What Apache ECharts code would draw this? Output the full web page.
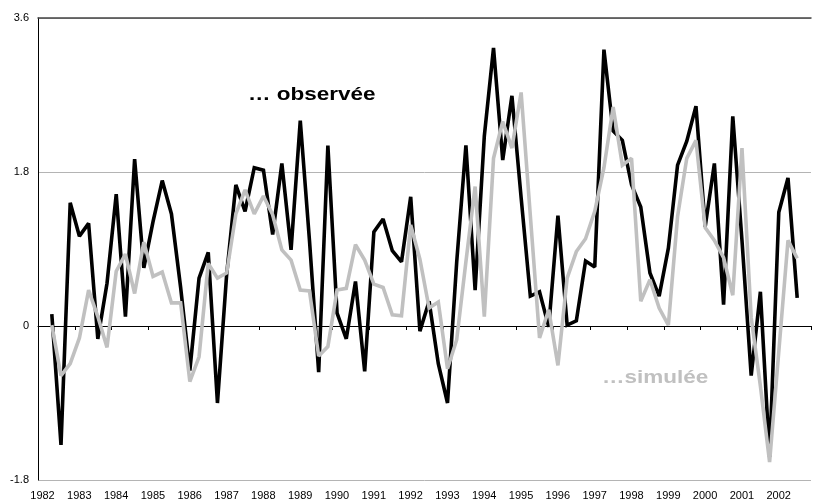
<!DOCTYPE html>
<html>
<head>
<meta charset="utf-8">
<script src="https://cdn.jsdelivr.net/npm/echarts@6/dist/echarts.min.js"></script>
<style>
  html, body { margin: 0; padding: 0; background: #fff; }
  #chart { width: 814px; height: 504px; }
</style>
</head>
<body>
<div id="chart"></div>
<script>
// Quarterly series, 1982 T2 to 2002 T3
const firstYear = 1982;
const firstQuarter = 2;

const observee = [
  0.14, -1.39, 1.44,
  1.05, 1.20, -0.15, 0.50,
  1.54, 0.11, 1.95, 0.68,
  1.22, 1.70, 1.31, 0.45,
  -0.52, 0.56, 0.86, -0.90,
  0.60, 1.65, 1.34, 1.85,
  1.82, 1.07, 1.90, 0.89,
  2.40, 1.00, -0.54, 2.11,
  0.15, -0.15, 0.52, -0.53,
  1.10, 1.25, 0.88, 0.75,
  1.51, -0.06, 0.29, -0.44,
  -0.90, 0.75, 2.11, 0.42,
  2.22, 3.25, 1.94, 2.69,
  1.50, 0.35, 0.40, -0.01,
  1.29, 0.01, 0.06, 0.76,
  0.69, 3.23, 2.28, 2.17,
  1.65, 1.39, 0.62, 0.35,
  0.91, 1.88, 2.16, 2.57,
  1.16, 1.90, 0.25, 2.45,
  1.00, -0.58, 0.40, -1.53,
  1.33, 1.73, 0.33
];

const simulee = [
  0.01, -0.58, -0.44,
  -0.14, 0.42, 0.11, -0.25,
  0.64, 0.84, 0.38, 0.98,
  0.58, 0.63, 0.27, 0.27,
  -0.65, -0.36, 0.73, 0.56,
  0.62, 1.31, 1.59, 1.31,
  1.52, 1.30, 0.89, 0.77,
  0.42, 0.41, -0.35, -0.24,
  0.42, 0.44, 0.95, 0.77,
  0.49, 0.45, 0.13, 0.12,
  1.18, 0.78, 0.21, 0.28,
  -0.50, -0.16, 0.75, 1.63,
  0.11, 1.96, 2.39, 2.08,
  2.73, 1.29, -0.14, 0.19,
  -0.46, 0.56, 0.87, 1.02,
  1.34, 1.85, 2.56, 1.88,
  1.96, 0.29, 0.54, 0.21,
  0.01, 1.28, 1.96, 2.17,
  1.15, 1.00, 0.80, 0.36,
  2.08, 0.10, -0.70, -1.59,
  -0.30, 1.00, 0.79
];

const yTicks = [-1.8, 0, 1.8, 3.6];
const yearLabels = ['1982','1983','1984','1985','1986','1987','1988','1989','1990','1991','1992',
                    '1993','1994','1995','1996','1997','1998','1999','2000','2001','2002'];

// each quarter sits at the middle of its slot on the year axis
function toPoints(values) {
  return values.map((v, i) => {
    const q = firstQuarter - 1 + i;
    const year = firstYear + Math.floor(q / 4);
    const x = year + ((q % 4) + 0.5) / 4;
    return [x, v];
  });
}

const chart = echarts.init(document.getElementById('chart'), null, { renderer: 'canvas' });
const baseFont = 'Liberation Sans, Arial, sans-serif';

chart.setOption({
  animation: false,
  backgroundColor: '#ffffff',
  grid: { left: 38, right: -12, top: 18, bottom: 24 },
  xAxis: [{
    type: 'value',
    min: 1982,
    max: 2003,
    interval: 1,
    axisLine: { show: true, lineStyle: { color: '#000', width: 1 } },
    axisTick: { show: true, inside: false, length: 4, lineStyle: { color: '#000' } },
    splitLine: { show: false },
    axisLabel: {
      show: true,
      margin: 10,
      color: '#000',
      fontFamily: baseFont,
      fontSize: 11,
      padding: [0, 0, 0, 9],
      formatter: v => {
        const idx = Math.round(v) - 1982;
        return (Math.abs(v - Math.round(v)) < 1e-6 && yearLabels[idx]) ? yearLabels[idx] : '';
      }
    }
  }, {
    type: 'value',
    position: 'top',
    min: 1982,
    max: 2003,
    axisLine: { show: true, lineStyle: { color: '#444', width: 1.5 } },
    axisTick: { show: false },
    axisLabel: { show: false },
    splitLine: { show: false }
  }],
  yAxis: {
    type: 'value',
    min: yTicks[0],
    max: yTicks[yTicks.length - 1],
    interval: 1.8,
    axisLine: { show: true, lineStyle: { color: '#000', width: 1 } },
    axisTick: { show: false },
    splitLine: { show: true, lineStyle: { color: '#b4b4b4', width: 1 } },
    axisLabel: {
      margin: 9,
      color: '#000',
      fontFamily: baseFont,
      fontSize: 11,
      formatter: v => {
        const t = yTicks.find(y => Math.abs(y - v) < 1e-6);
        return t === undefined ? '' : String(t);
      }
    }
  },
  series: [{
    name: 'observée',
    type: 'line',
    data: toPoints(observee),
    showSymbol: false,
    symbol: 'none',
    lineStyle: { color: '#000000', width: 3.6, join: 'miter', miterLimit: 2 },
    z: 2
  }, {
    name: 'simulée',
    type: 'line',
    data: toPoints(simulee),
    showSymbol: false,
    symbol: 'none',
    lineStyle: { color: '#c0c0c0', width: 3.6, join: 'miter', miterLimit: 2 },
    z: 3
  }],
  graphic: [{
    type: 'text',
    left: 248,
    top: 86,
    style: {
      text: '… observée',
      fill: '#000',
      font: 'bold 18px ' + baseFont
    },
    scaleX: 1.25,
    z: 10
  }, {
    type: 'text',
    left: 602,
    top: 369,
    style: {
      text: '…simulée',
      fill: '#c0c0c0',
      font: 'bold 18px ' + baseFont
    },
    scaleX: 1.25,
    z: 10
  }]
});
</script>
</body>
</html>
